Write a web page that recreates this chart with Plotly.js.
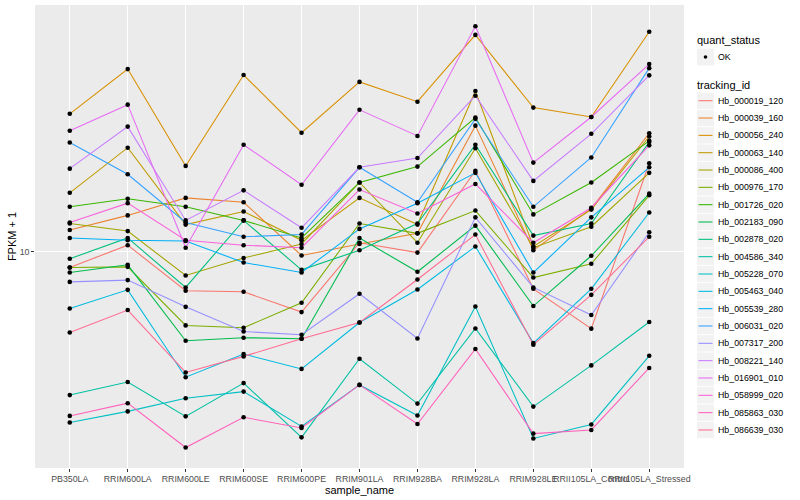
<!DOCTYPE html>
<html><head><meta charset="utf-8">
<script src="https://cdn.plot.ly/plotly-3.0.1.min.js"></script>
<style>body{margin:0;background:#fff}#chart{width:800px;height:500px}</style>
</head><body><div id="chart"></div>
<script>
const samples = ["PB350LA","RRIM600LA","RRIM600LE","RRIM600SE","RRIM600PE","RRIM901LA","RRIM928BA","RRIM928LA","RRIM928LE","RRII105LA_Control","RRII105LA_Stressed"];
const trackingIds = ["Hb_000019_120","Hb_000039_160","Hb_000056_240","Hb_000063_140","Hb_000086_400","Hb_000976_170","Hb_001726_020","Hb_002183_090","Hb_002878_020","Hb_004586_340","Hb_005228_070","Hb_005463_040","Hb_005539_280","Hb_006031_020","Hb_007317_200","Hb_008221_140","Hb_016901_010","Hb_058999_020","Hb_085863_030","Hb_086639_030"];
const lineColors = ["#F8766D","#EA8331","#D89000","#C09B00","#A3A500","#7CAE00","#39B600","#00BB4E","#00BF7D","#00C1A3","#00BFC4","#00BAE0","#00B0F6","#35A2FF","#9590FF","#C77CFF","#E76BF3","#FA62DB","#FF62BC","#FF6C91"];
const quantStatus = ["OK"];

// FPKM + 1 per sample (same order as samples)
const Hb_000019_120 = [8.85, 10.5, 7.40, 7.34, 6.28, 10.7, 9.92, 18.6, 7.51, 5.53, 19.7];
const Hb_000039_160 = [11.8, 13.2, 15.1, 14.6, 9.7, 10.6, 11.5, 26.3, 10.1, 13.9, 24.8];
const Hb_000056_240 = [28.8, 40.6, 19.3, 38.8, 24.9, 36.8, 31.6, 52.8, 30.2, 28.1, 54.1];
const Hb_000063_140 = [15.7, 22.2, 12.3, 13.6, 10.9, 15.1, 12.3, 34.3, 10.4, 13.8, 24.2];
const Hb_000086_400 = [12.4, 11.7, 8.32, 9.51, 10.6, 17.0, 10.7, 22.1, 10.3, 12.1, 18.3];
const Hb_000976_170 = [8.85, 8.89, 5.67, 5.57, 6.75, 12.4, 11.5, 13.7, 8.19, 9.10, 15.4];
const Hb_001726_020 = [14.1, 15.0, 14.1, 12.7, 11.1, 17.0, 19.2, 28.0, 13.3, 17.0, 23.4];
const Hb_002183_090 = [8.51, 9.03, 5.04, 5.16, 5.12, 11.1, 8.56, 12.2, 6.58, 9.68, 15.6];
const Hb_002878_020 = [9.46, 11.1, 7.59, 12.7, 8.69, 10.1, 12.4, 22.7, 11.3, 12.4, 23.2];
const Hb_004586_340 = [3.32, 3.67, 2.82, 3.64, 2.40, 4.39, 3.11, 5.54, 3.04, 4.17, 5.82];
const Hb_005228_070 = [2.69, 2.93, 3.24, 3.41, 2.61, 3.59, 2.84, 6.56, 2.38, 2.65, 4.49];
const Hb_005463_040 = [6.46, 7.45, 3.81, 4.55, 4.06, 5.80, 7.47, 10.4, 4.95, 7.51, 13.5];
const Hb_005539_280 = [11.1, 10.9, 10.85, 9.19, 8.51, 11.9, 14.5, 18.3, 8.51, 13.0, 19.1];
const Hb_006031_020 = [23.1, 18.1, 12.5, 11.2, 11.4, 19.1, 14.6, 27.7, 14.1, 20.6, 40.9];
const Hb_007317_200 = [7.92, 8.03, 6.54, 5.41, 5.28, 7.23, 5.13, 13.0, 7.59, 6.14, 11.6];
const Hb_008221_140 = [18.9, 26.1, 12.7, 16.0, 12.0, 19.1, 20.5, 33.1, 17.2, 24.7, 38.7];
const Hb_016901_010 = [25.3, 30.9, 10.3, 22.7, 16.7, 29.7, 24.3, 56.4, 19.8, 28.1, 42.2];
const Hb_058999_020 = [12.5, 14.5, 10.9, 10.5, 10.3, 16.1, 13.4, 16.8, 10.7, 14.0, 22.6];
const Hb_085863_030 = [2.83, 3.12, 2.22, 2.80, 2.58, 3.59, 2.66, 4.73, 2.47, 2.54, 4.09];
const Hb_086639_030 = [5.37, 6.38, 3.95, 4.47, 5.12, 5.80, 8.07, 11.4, 4.89, 7.17, 11.2];

const yTickVals = [10];
const yTickText = ["10"];

const seriesValues = [Hb_000019_120,Hb_000039_160,Hb_000056_240,Hb_000063_140,Hb_000086_400,Hb_000976_170,Hb_001726_020,Hb_002183_090,Hb_002878_020,Hb_004586_340,Hb_005228_070,Hb_005463_040,Hb_005539_280,Hb_006031_020,Hb_007317_200,Hb_008221_140,Hb_016901_010,Hb_058999_020,Hb_085863_030,Hb_086639_030];

const FONT = "Liberation Sans, Arial, Helvetica, sans-serif";
const traces = [];
seriesValues.forEach((vals, i) => {
  traces.push({type:"scatter", mode:"lines", x:samples, y:vals, name:trackingIds[i],
    line:{color:lineColors[i], width:1.07}, showlegend:false, hoverinfo:"skip"});
});
seriesValues.forEach((vals, i) => {
  traces.push({type:"scatter", mode:"markers", x:samples, y:vals, name:quantStatus[0],
    marker:{color:"#000000", size:4.6}, showlegend:false});
});

// plot panel in pixels
const P = {l:35, r:684, t:5, b:468};
const px = x => (x - P.l) / (P.r - P.l);
const py = y => (P.b - y) / (P.b - P.t);

const shapes = [];
const annotations = [];
// quant_status legend
annotations.push({xref:"paper", yref:"paper", x:px(695), y:py(40.5), text:"quant_status", showarrow:false, xanchor:"left", yanchor:"middle", font:{family:FONT, size:11, color:"#000"}});
shapes.push({type:"rect", xref:"paper", yref:"paper", x0:px(697), x1:px(714), y0:py(48.5), y1:py(65.5), fillcolor:"#F2F2F2", line:{width:0}});
shapes.push({type:"circle", xref:"paper", yref:"paper", x0:px(703.7), x1:px(707.3), y0:py(55.2), y1:py(58.8), fillcolor:"#000", line:{width:0}});
annotations.push({xref:"paper", yref:"paper", x:px(715.5), y:py(57), text:quantStatus[0], showarrow:false, xanchor:"left", yanchor:"middle", font:{family:FONT, size:8.8, color:"#000"}});
// tracking_id legend
annotations.push({xref:"paper", yref:"paper", x:px(695), y:py(85), text:"tracking_id", showarrow:false, xanchor:"left", yanchor:"middle", font:{family:FONT, size:11, color:"#000"}});
trackingIds.forEach((id, i) => {
  const cy = 100.7 + 17.33 * i;
  shapes.push({type:"rect", xref:"paper", yref:"paper", x0:px(697), x1:px(714), y0:py(cy - 8.2), y1:py(cy + 8.2), fillcolor:"#F2F2F2", line:{width:0}});
  shapes.push({type:"line", xref:"paper", yref:"paper", x0:px(698.5), x1:px(712.5), y0:py(cy), y1:py(cy), line:{color:lineColors[i], width:1.07}});
  annotations.push({xref:"paper", yref:"paper", x:px(715.5), y:py(cy), text:id, showarrow:false, xanchor:"left", yanchor:"middle", font:{family:FONT, size:8.8, color:"#000"}});
});

const layout = {
  width:800, height:500,
  margin:{l:35, r:116, t:5, b:32, pad:0},
  paper_bgcolor:"#FFFFFF", plot_bgcolor:"#EBEBEB",
  showlegend:false,
  font:{family:FONT, size:8.8, color:"#000"},
  xaxis:{type:"category", categoryorder:"array", categoryarray:samples, range:[-0.6, 10.6],
    showgrid:true, gridcolor:"#FFFFFF", gridwidth:1.07, zeroline:false, showline:false,
    ticks:"outside", ticklen:2.75, tickwidth:1.07, tickcolor:"#333333", tickangle:0,
    tickfont:{family:FONT, size:8.8, color:"#4D4D4D"}, automargin:false,
    title:{text:"sample_name", font:{family:FONT, size:11, color:"#000"}, standoff:0}},
  yaxis:{type:"log", range:[0.278, 1.8223], tickvals:yTickVals, ticktext:yTickText,
    showgrid:true, gridcolor:"#FFFFFF", gridwidth:1.07, zeroline:false, showline:false,
    ticks:"outside", ticklen:2.75, tickwidth:1.07, tickcolor:"#333333",
    tickfont:{family:FONT, size:8.8, color:"#4D4D4D"}, automargin:false,
    title:{text:"FPKM + 1", font:{family:FONT, size:11, color:"#000"}, standoff:0}},
  shapes:shapes, annotations:annotations
};
Plotly.newPlot("chart", traces, layout, {staticPlot:true, displayModeBar:false});
</script></body></html>
